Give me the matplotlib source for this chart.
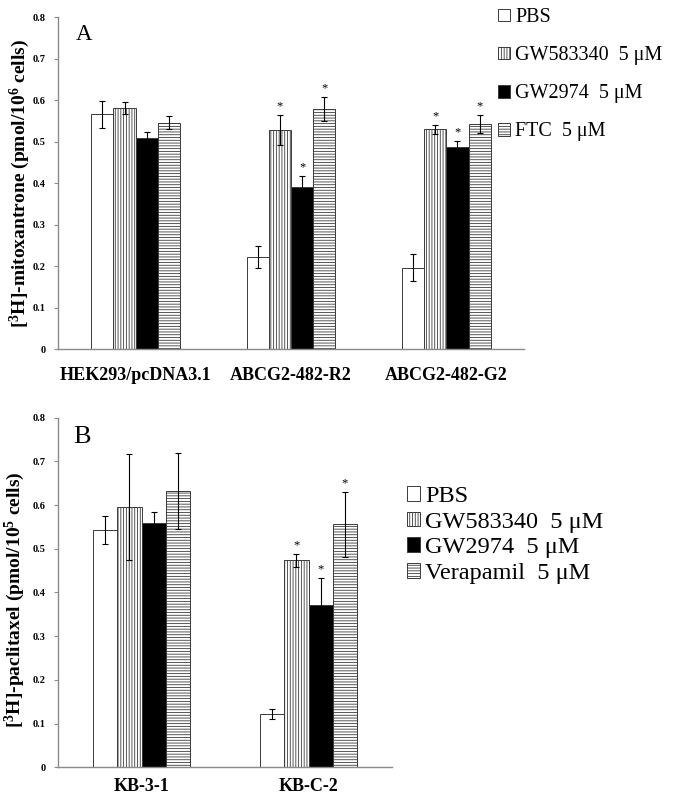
import matplotlib
matplotlib.use("Agg")
import matplotlib.pyplot as plt
import numpy as np

plt.rcParams['font.family'] = ['Liberation Serif', 'DejaVu Serif']
plt.rcParams['mathtext.fontset'] = 'custom'
plt.rcParams['mathtext.rm'] = 'Liberation Serif:bold'
plt.rcParams['mathtext.it'] = 'Liberation Serif:bold'
plt.rcParams['mathtext.bf'] = 'Liberation Serif:bold'
plt.rcParams['mathtext.default'] = 'rm'
plt.rcParams['hatch.linewidth'] = 0.6

# panel A data
CELLS_A = ['HEK293/pcDNA3.1', 'ABCG2-482-R2', 'ABCG2-482-G2']
SERIES_A = ['PBS', 'GW583340  5 \u03bcM', 'GW2974  5 \u03bcM', 'FTC  5 \u03bcM']
VALS_A = [[0.566, 0.222, 0.197],
          [0.582, 0.528, 0.530],
          [0.508, 0.392, 0.488],
          [0.546, 0.579, 0.542]]
ERR_A = [[0.032, 0.026, 0.032],
         [0.015, 0.036, 0.011],
         [0.016, 0.025, 0.014],
         [0.015, 0.029, 0.022]]
STAR_A = [[0, 0, 0],
          [0, 1, 1],
          [0, 1, 1],
          [0, 1, 1]]

# panel B data
CELLS_B = ['KB-3-1', 'KB-C-2']
SERIES_B = ['PBS', 'GW583340  5 \u03bcM', 'GW2974  5 \u03bcM', 'Verapamil  5 \u03bcM']
VALS_B = [[0.542, 0.122],
          [0.595, 0.474],
          [0.558, 0.372],
          [0.632, 0.556]]
ERR_B = [[0.032, 0.012],
         [0.121, 0.015],
         [0.027, 0.062],
         [0.087, 0.074]]
STAR_B = [[0, 0],
          [0, 1],
          [0, 1],
          [0, 1]]

YTICKS = [0, 0.1, 0.2, 0.3, 0.4, 0.5, 0.6, 0.7, 0.8]
STYLES = [dict(color='white', hatch=None),
          dict(color='white', hatch='||||||'),
          dict(color='black', hatch=None),
          dict(color='white', hatch='------')]


def draw_panel(ax, cells, vals, errs, stars, width):
    x = np.arange(len(cells))
    bars = []
    for i, (v, e, st) in enumerate(zip(vals, errs, stars)):
        pos = x + (i - 1.5) * width
        b = ax.bar(pos, v, width, color=STYLES[i]['color'], hatch=STYLES[i]['hatch'],
                   edgecolor='#3a3a3a', linewidth=0.7)
        bars.append(b)
        ax.errorbar(pos, v, yerr=e, fmt='none', ecolor='black', elinewidth=0.8,
                    capsize=2.5, capthick=0.8)
        for p, vv, ee, s in zip(pos, v, e, st):
            if s:
                ax.text(p, vv + ee + 0.006, '*', ha='center', va='bottom', fontsize=9)
    ax.set_xlim(-0.5, len(cells) - 0.5)
    ax.set_ylim(0, 0.8)
    ax.set_yticks(YTICKS)
    ax.set_yticklabels(['0' if t == 0 else '%.1f' % t for t in YTICKS],
                       fontsize=7.5, fontweight='bold')
    ax.set_xticks(x)
    ax.set_xticklabels(cells, fontsize=13, fontweight='bold')
    for s in ['top', 'right']:
        ax.spines[s].set_visible(False)
    for s in ['left', 'bottom']:
        ax.spines[s].set_color('#8a8a8a')
        ax.spines[s].set_linewidth(1.0)
    ax.tick_params(axis='y', direction='out', length=3, color='#8a8a8a', pad=6)
    return bars


fig = plt.figure(figsize=(6.75, 8.05), dpi=100)

axA = fig.add_axes([58 / 675, 1 - 349.3 / 805, 466 / 675, 332 / 805])
barsA = draw_panel(axA, CELLS_A, VALS_A, ERR_A, STAR_A, 0.143)
axA.tick_params(axis='x', length=0, pad=13)
axA.set_ylabel('[$^{3}$H]-mitoxantrone (pmol/10$^{6}$ cells)', fontsize=14, fontweight='bold')
axA.yaxis.set_label_coords(-0.055, 0.5)
fig.text(76 / 675, 1 - 40 / 805, 'A', fontsize=16.5, va='baseline')
fig.legend(barsA, SERIES_A, loc='upper left', bbox_to_anchor=(498 / 675, 1 - 8 / 805),
           frameon=False, fontsize=14.5, handlelength=0.6, handleheight=0.6,
           handletextpad=0.25, labelspacing=0.95, borderaxespad=0, borderpad=0)

axB = fig.add_axes([58 / 675, 1 - 767.3 / 805, 334 / 675, 349.6 / 805])
barsB = draw_panel(axB, CELLS_B, VALS_B, ERR_B, STAR_B, 0.144)
axB.tick_params(axis='x', length=0, pad=8)
axB.set_ylabel('[$^{3}$H]-paclitaxel (pmol/10$^{5}$ cells)', fontsize=14, fontweight='bold')
axB.yaxis.set_label_coords(-0.092, 0.48)
fig.text(73 / 675, 1 - 443 / 805, 'B', fontsize=19, va='baseline')
fig.legend(barsB, SERIES_B, loc='upper left', bbox_to_anchor=(407 / 675, 1 - 486 / 805),
           frameon=False, fontsize=17.5, handlelength=0.55, handleheight=0.55,
           handletextpad=0.2, labelspacing=0.19, borderaxespad=0, borderpad=0)

fig.savefig('out.png', dpi=100)
